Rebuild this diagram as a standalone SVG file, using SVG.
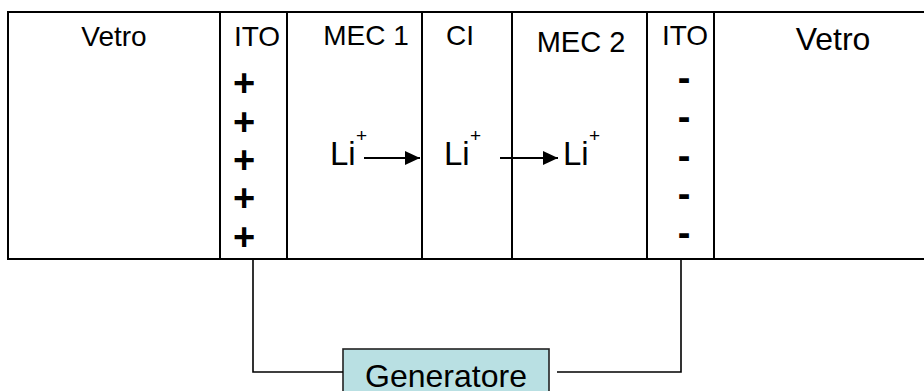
<svg xmlns="http://www.w3.org/2000/svg" width="924" height="391" viewBox="0 0 924 391">
<style>
.frame{fill:none;stroke:#000;stroke-width:2}
.wire{fill:none;stroke:#000;stroke-width:1.6}
.arr{fill:none;stroke:#000;stroke-width:2}
.lbl{font-family:"Liberation Sans",Arial,sans-serif;fill:#000;text-anchor:middle}
.li{font-family:"Liberation Sans",Arial,sans-serif;fill:#000;font-size:33px}
.sup{font-family:"Liberation Sans",Arial,sans-serif;fill:#000;font-size:19px}
.sign{font-family:"Liberation Sans",Arial,sans-serif;font-weight:bold;font-size:38px;fill:#000;text-anchor:middle}
</style>
<defs>
<marker id="ah" markerUnits="userSpaceOnUse" markerWidth="16" markerHeight="15" refX="15" refY="7" orient="auto">
<path d="M0,0 L15,7 L0,14 z" fill="#000"/>
</marker>
</defs>
<g id="layers">
<path class="frame" d="M930,12 H8 V259 H930"/>
<g id="vetro-left"><text class="lbl" x="114" y="46" font-size="28">Vetro</text></g>
<g id="ito-left">
<line class="frame" x1="220" y1="12" x2="220" y2="259"/>
<text class="lbl" x="257" y="46" font-size="28">ITO</text>
<text class="sign" x="244" y="96">+</text>
<text class="sign" x="244" y="135">+</text>
<text class="sign" x="244" y="173">+</text>
<text class="sign" x="244" y="211">+</text>
<text class="sign" x="244" y="250">+</text>
</g>
<g id="mec1">
<line class="frame" x1="287" y1="12" x2="287" y2="259"/>
<text class="lbl" x="366" y="45" font-size="28">MEC 1</text>
<text class="li" x="330" y="165">Li</text><text class="sup" x="356" y="142">+</text>
</g>
<g id="ci">
<line class="frame" x1="422" y1="12" x2="422" y2="259"/>
<text class="lbl" x="460" y="45" font-size="28">CI</text>
<text class="li" x="444" y="165">Li</text><text class="sup" x="470" y="142">+</text>
</g>
<g id="mec2">
<line class="frame" x1="512" y1="12" x2="512" y2="259"/>
<text class="lbl" x="581" y="52" font-size="29">MEC 2</text>
<text class="li" x="563" y="165">Li</text><text class="sup" x="589" y="142">+</text>
</g>
<g id="ito-right">
<line class="frame" x1="647" y1="12" x2="647" y2="259"/>
<text class="lbl" x="685" y="45" font-size="28">ITO</text>
<text class="sign" x="684" y="91">-</text>
<text class="sign" x="684" y="130">-</text>
<text class="sign" x="684" y="169">-</text>
<text class="sign" x="684" y="207">-</text>
<text class="sign" x="684" y="246">-</text>
</g>
<g id="vetro-right">
<line class="frame" x1="714" y1="12" x2="714" y2="259"/>
<text class="lbl" x="833" y="50" font-size="32">Vetro</text>
</g>
</g>
<g id="generatore">
<rect x="343" y="349" width="206" height="60" fill="#b9e0e3" stroke="#222" stroke-width="1.6"/>
<text class="lbl" x="446" y="387" font-size="32">Generatore</text>
</g>
<g id="connectors">
<path class="arr" d="M364,158 H420" marker-end="url(#ah)"/>
<path class="arr" d="M500,158 H558" marker-end="url(#ah)"/>
<path class="wire" d="M253,259 V372 H343"/>
<path class="wire" d="M557,372 H681 V259"/>
</g>
</svg>
